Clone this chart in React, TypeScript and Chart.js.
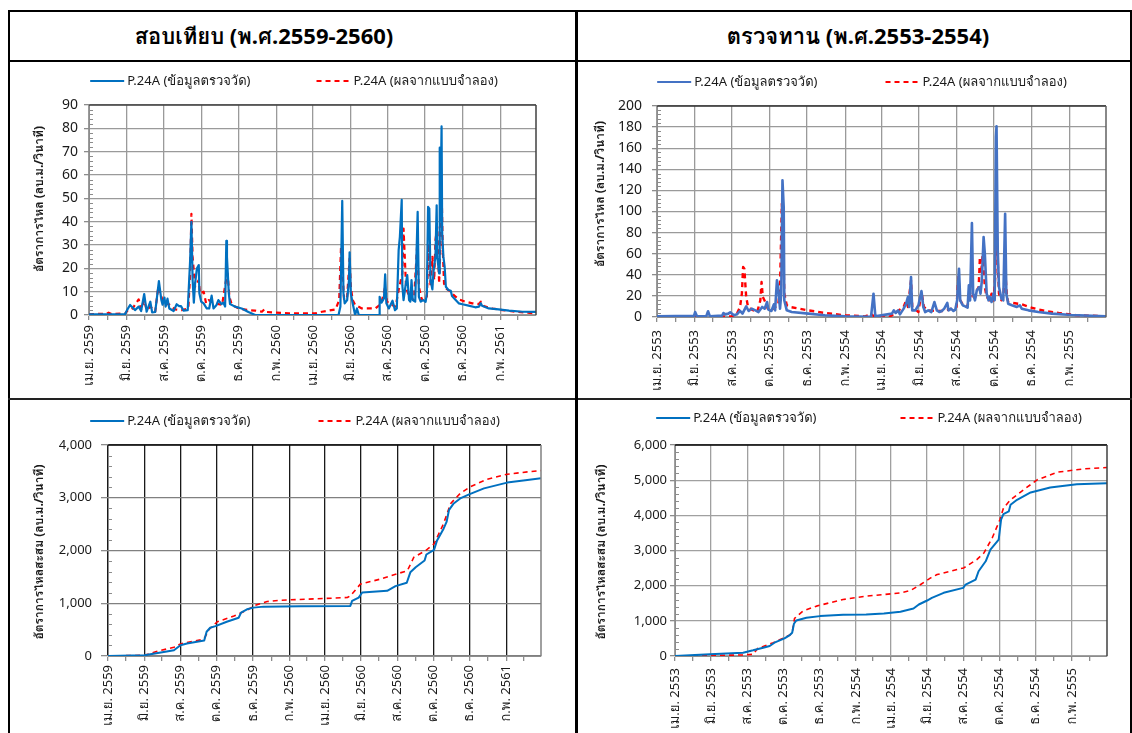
import React, { useEffect, useRef } from 'react';
import { Chart, registerables } from 'chart.js';

Chart.register(...registerables);

const FONT = "Tahoma, 'Noto Sans', Garuda, Loma, 'Noto Sans Thai', sans-serif";
const TEXT = '#1a1a1a';

// ---------- text ----------
const headerCal = 'สอบเทียบ (พ.ศ.2559-2560)';
const headerVer = 'ตรวจทาน (พ.ศ.2553-2554)';
const legendObs = 'P.24A (ข้อมูลตรวจวัด)';
const legendSim = 'P.24A (ผลจากแบบจำลอง)';
const titleFlow = 'อัตราการไหล (ลบ.ม./วินาที)';
const titleCum = 'อัตราการไหลสะสม (ลบ.ม./วินาที)';

const calTickLabels = ['เม.ย. 2559', 'มิ.ย. 2559', 'ส.ค. 2559', 'ต.ค. 2559', 'ธ.ค. 2559', 'ก.พ. 2560', 'เม.ย. 2560', 'มิ.ย. 2560', 'ส.ค. 2560', 'ต.ค. 2560', 'ธ.ค. 2560', 'ก.พ. 2561'];
const verTickLabels = ['เม.ย. 2553', 'มิ.ย. 2553', 'ส.ค. 2553', 'ต.ค. 2553', 'ธ.ค. 2553', 'ก.พ. 2554', 'เม.ย. 2554', 'มิ.ย. 2554', 'ส.ค. 2554', 'ต.ค. 2554', 'ธ.ค. 2554', 'ก.พ. 2555'];

// ---------- data (x = days since 1 Apr of the first year) ----------
// calibration 2559-2560 (starts 1 Apr 2016), daily flow
const calObsDays = [0,59,62,67,75,81,85,90,94,100,103,108,114,118,120,123,125,128,131,138,143,147,150,154,161,165,167,169,171,173,176,179,180,183,187,192,196,200,203,208,211,216,219,222,224,225,228,230,238,249,260,271,407,410,413,415,417,421,424,425,427,430,434,437,440,473,474,477,481,483,485,489,495,499,502,505,507,510,511,513,516,519,522,524,526,528,532,536,538,541,545,549,551,553,555,557,560,562,565,567,568,571,572,573,575,576,578,580,582,586,590,592,598,603,609,619,630,636,639,641,652,668,685,707,729];
const calObsFlow = [0.3,0.4,2.1,4.3,2.1,3.6,1.7,9.0,1.4,5.7,1.1,1.3,14.5,6.4,4.4,7.5,3.6,7.0,2.8,1.7,4.6,3.8,3.8,1.9,2.1,23.8,39.9,15.0,5.3,13.5,19.9,21.4,9.3,5.7,5.0,2.8,2.8,8.3,2.8,4.3,6.4,4.7,5.3,3.6,31.8,24.9,9.3,4.7,3.6,2.8,1.3,0,0,3.6,48.9,9.3,5.0,6.4,15.0,26.9,9.3,5.0,0,2.8,0,0,7.8,5.3,7.1,17.4,5.0,2.8,6.1,2.1,2.8,27.8,33.5,49.4,12.8,6.4,12.1,17.1,6.4,5.7,15.0,6.4,5.7,44.2,7.8,5.7,6.4,5.6,9.3,46.3,45.6,15.0,11.0,19.2,24.9,47.0,24.9,17.8,71.7,40.6,80.8,34.9,24.9,20.7,12.1,10.7,10.4,8.1,6.4,5.0,4.6,4.0,3.3,3.6,5.0,4.0,2.8,2.4,1.9,1.4,1.3];
const calSimDays = [0,29,32,37,59,63,70,81,85,90,94,100,108,113,118,123,130,140,151,162,165,167,169,173,179,181,187,191,195,200,206,217,223,226,229,233,244,260,271,282,286,290,326,369,380,391,402,408,411,413,416,421,425,427,430,434,445,467,474,478,483,486,494,500,505,511,513,515,517,522,530,535,538,543,551,554,557,560,563,565,568,571,573,575,577,579,582,590,595,603,614,625,636,639,644,658,674,696,729];
const calSimFlow = [0.3,0.6,1.0,0.4,0.7,1.9,2.4,6.7,2.4,6.4,2.1,3.6,1.4,12.1,7.8,4.7,4.7,2.4,2.1,2.8,17.8,43.4,24.9,12.1,15.0,9.3,10.0,5.0,6.4,5.7,5.0,4.3,14.2,17.8,7.8,4.3,2.8,2.1,1.9,1.4,2.4,1.3,0.7,0.7,1.4,1.9,2.4,6.4,29.2,20.7,6.4,7.8,24.2,12.1,6.4,4.3,2.8,2.8,4.3,6.4,12.1,5.7,4.3,3.6,10.7,17.8,37.0,24.9,12.1,7.8,6.4,29.2,12.1,6.4,7.8,30.6,12.1,24.9,15.0,32.1,37.7,13.5,27.8,55.1,27.8,13.5,11.4,10.0,8.5,6.7,5.7,5.0,4.7,5.7,3.8,2.8,2.1,1.4,0.7];

// verification 2553-2554 (starts 1 Apr 2010), daily flow
const verObsDays = [0,30,60,62,65,80,83,86,106,108,111,116,119,125,130,135,139,145,149,154,160,165,171,175,179,181,186,190,192,195,197,200,202,204,206,207,211,219,246,273,306,348,352,355,382,385,388,392,395,401,405,408,410,413,415,420,425,430,433,436,441,446,451,455,459,463,467,472,474,478,482,485,488,491,493,497,501,505,507,509,512,514,517,520,524,526,528,531,533,536,539,541,544,547,549,551,552,554,556,560,563,566,568,571,577,585,590,593,604,620,642,674,730];
const verObsFlow = [0.6,0.9,0.9,4.7,0.6,0.6,5.4,0.6,1.3,3.8,2.5,3.2,4.4,1.6,2.5,5.7,3.2,10.1,5.7,7.9,6.3,4.7,9.5,7.9,14.2,7.0,5.7,12.0,6.3,34.8,28.4,7.9,22.1,129.5,104.3,15.8,6.3,4.7,3.2,1.6,0.6,0.3,22.1,0.6,3.2,6.3,3.8,6.3,2.5,7.9,12.6,19.0,9.5,37.9,6.3,6.3,11.1,24.6,9.5,4.7,6.3,4.7,14.2,6.3,4.7,5.7,7.9,13.3,6.3,7.9,5.7,7.0,15.8,45.8,15.8,11.1,10.1,8.8,30.0,15.8,89.1,22.1,15.8,25.3,28.4,22.1,33.2,75.8,60.0,22.1,15.8,19.0,14.2,22.1,15.8,170.6,180.7,63.2,28.4,17.4,15.8,97.9,22.1,12.6,11.1,9.5,11.1,7.9,6.3,4.7,3.2,1.9,0.6];
const verSimDays = [0,57,122,130,135,138,140,142,145,148,154,163,168,170,172,176,180,186,192,197,200,203,205,207,211,216,246,273,306,338,349,353,376,382,393,401,405,408,413,415,425,430,434,441,452,463,474,487,490,493,498,504,509,513,516,520,523,525,527,529,531,533,536,541,544,547,550,552,554,556,560,563,566,569,571,579,593,609,631,653,680,730];
const verSimFlow = [0,0.3,0.6,3.2,9.5,22.1,47.4,45.8,19.0,9.5,7.0,4.7,15.8,33.2,19.0,14.2,7.9,6.3,9.5,11.1,28.4,107.4,72.7,22.1,11.1,9.5,6.3,3.8,1.6,0.6,2.5,0.6,0,1.6,6.3,9.5,15.8,9.5,34.8,9.5,4.7,23.7,9.5,6.3,5.7,5.7,7.0,9.5,37.9,15.8,11.1,9.5,19.0,23.7,15.8,25.3,28.4,56.9,41.1,56.9,47.4,28.4,19.0,15.8,22.1,15.8,37.9,88.5,53.7,22.1,15.8,19.0,45.8,19.0,14.2,13.3,12.0,8.8,5.7,3.8,1.9,0.6];

// cumulative flow
const calObsCumDays = [0,61,94,111,122,133,162,166,172,181,200,220,224,234,245,262,324,408,411,422,428,470,484,503,509,518,533,536,549,554,565,570,574,582,593,609,633,672,706,729];
const calObsCum = [0,13,76,108,204,236,293,459,535,567,650,726,822,885,917,936,943,949,1045,1108,1204,1236,1325,1389,1586,1682,1809,1924,2013,2191,2414,2541,2764,2892,2987,3070,3178,3287,3338,3369];
const calSimCumDays = [0,61,83,111,122,156,162,170,184,212,234,245,268,290,403,408,425,459,504,515,535,549,565,577,593,610,638,672,706,729];
const calSimCum = [0,13,89,166,229,306,331,503,650,758,866,949,1032,1057,1108,1140,1363,1459,1618,1873,2000,2127,2510,2892,3083,3210,3350,3446,3490,3516];
const verObsCumDays = [0,59,115,132,149,160,168,177,185,194,198,201,205,222,245,284,323,353,381,403,412,426,434,454,487,491,508,513,525,533,547,551,555,564,567,578,601,634,679,730];
const verObsCum = [0,47,95,161,236,284,378,444,501,595,662,917,1011,1087,1134,1172,1181,1210,1257,1352,1465,1578,1654,1796,1938,2032,2174,2410,2694,3025,3308,3875,4036,4112,4301,4442,4650,4792,4887,4915];
const verSimCumDays = [0,59,115,132,140,166,194,198,202,216,239,261,284,323,353,381,398,415,432,443,465,488,510,522,536,549,555,567,589,612,646,691,730];
const verSimCum = [0,19,28,47,217,378,595,662,1068,1276,1418,1512,1607,1701,1749,1796,1862,2032,2221,2316,2410,2505,2741,2930,3355,3875,4206,4442,4726,5009,5227,5321,5359];

// ---------- helpers ----------
const zip = (xs: number[], ys: number[]) => xs.map((x, i) => ({ x, y: ys[i] }));

function monthTicks(year: number, month: number, count: number, maxDay: number) {
  const t0 = Date.UTC(year, month, 1);
  const out: number[] = [];
  for (let i = 0; i <= count; i++) {
    const d = Math.round((Date.UTC(year, month + i, 1) - t0) / 86400000);
    if (d <= maxDay) out.push(d);
  }
  return out;
}

type Spec = {
  left: number; top: number; w: number; h: number;
  year: number; maxDay: number; xLabels: string[];
  yMax: number; yStep: number; yMinor: number; thousands: boolean;
  yWidth: number; xHeight: number; padTop: number; padRight: number;
  yPad: number; yTickLen: number; xPad: number; yFont: number;
  obsDays: number[]; obsVals: number[]; simDays: number[]; simVals: number[];
  obsColor: string; obsWidth: number; simWidth: number;
  vGrid: string; hGrid: string; topColor: string; rightColor: string;
  title: string; titleX: number; titleY: number;
  legendCx: number; legendY: number; legendGap: number;
};

function buildConfig(s: Spec): any {
  const ticksX = monthTicks(s.year, 3, 24, s.maxDay);
  const decor = {
    id: 'decor',
    afterDraw(chart: any) {
      const { ctx, chartArea: a } = chart;
      const ys = chart.scales.y;
      ctx.save();
      // minor y ticks (inside)
      ctx.strokeStyle = '#8c8c8c';
      ctx.lineWidth = 1;
      for (let v = s.yMinor; v < s.yMax; v += s.yMinor) {
        const r = v / s.yStep;
        if (Math.abs(r - Math.round(r)) < 1e-6) continue;
        const py = Math.round(ys.getPixelForValue(v)) + 0.5;
        ctx.beginPath();
        ctx.moveTo(a.left, py);
        ctx.lineTo(a.left + 4, py);
        ctx.stroke();
      }
      // plot frame (top / right)
      ctx.lineWidth = 1.5;
      ctx.strokeStyle = s.topColor;
      ctx.beginPath();
      ctx.moveTo(a.left, a.top);
      ctx.lineTo(a.right, a.top);
      ctx.stroke();
      ctx.strokeStyle = s.rightColor;
      ctx.beginPath();
      ctx.moveTo(a.right, a.top);
      ctx.lineTo(a.right, a.bottom);
      ctx.stroke();
      // y-axis title
      ctx.save();
      ctx.translate(s.titleX, s.titleY);
      ctx.rotate(-Math.PI / 2);
      ctx.font = `bold 12px ${FONT}`;
      ctx.fillStyle = TEXT;
      ctx.textAlign = 'center';
      ctx.textBaseline = 'middle';
      ctx.fillText(s.title, 0, 0);
      ctx.restore();
      // legend
      ctx.font = `13px ${FONT}`;
      const items = [
        { text: legendObs, color: s.obsColor, dash: [] as number[] },
        { text: legendSim, color: '#FF0000', dash: [5, 4] },
      ];
      const lineLen = 34;
      const gap = 3;
      const widths = items.map((it) => lineLen + gap + ctx.measureText(it.text).width);
      const total = widths[0] + s.legendGap + widths[1];
      let x = s.legendCx - total / 2;
      items.forEach((it, i) => {
        ctx.strokeStyle = it.color;
        ctx.lineWidth = 2;
        ctx.setLineDash(it.dash);
        ctx.beginPath();
        ctx.moveTo(x, s.legendY);
        ctx.lineTo(x + lineLen, s.legendY);
        ctx.stroke();
        ctx.setLineDash([]);
        ctx.fillStyle = TEXT;
        ctx.textAlign = 'left';
        ctx.textBaseline = 'middle';
        ctx.fillText(it.text, x + lineLen + gap, s.legendY);
        x += widths[i] + s.legendGap;
      });
      ctx.restore();
    },
  };

  return {
    type: 'line',
    data: {
      datasets: [
        {
          label: legendObs,
          data: zip(s.obsDays, s.obsVals),
          borderColor: s.obsColor,
          borderWidth: s.obsWidth,
          pointRadius: 0,
          tension: 0,
          fill: false,
          borderJoinStyle: 'round',
        },
        {
          label: legendSim,
          data: zip(s.simDays, s.simVals),
          borderColor: '#FF0000',
          borderWidth: s.simWidth,
          borderDash: [5, 4],
          pointRadius: 0,
          tension: 0,
          fill: false,
          borderJoinStyle: 'round',
        },
      ],
    },
    options: {
      responsive: false,
      animation: false,
      devicePixelRatio: 1,
      layout: { padding: { top: s.padTop, right: s.padRight, left: 0, bottom: 0 } },
      plugins: { legend: { display: false }, tooltip: { enabled: false } },
      scales: {
        x: {
          type: 'linear',
          min: 0,
          max: s.maxDay,
          afterFit: (sc: any) => { sc.height = s.xHeight; },
          afterBuildTicks: (sc: any) => { sc.ticks = ticksX.map((v) => ({ value: v })); },
          ticks: {
            autoSkip: false,
            maxRotation: 90,
            minRotation: 90,
            padding: s.xPad,
            color: TEXT,
            font: { family: FONT, size: 13 },
            callback: (_v: any, i: number) => (i % 2 === 0 ? s.xLabels[i / 2] ?? '' : ''),
          },
          grid: {
            color: (c: any) => (c.index % 2 === 0 ? s.vGrid : 'rgba(0,0,0,0)'),
            lineWidth: 1.3,
            tickColor: '#8c8c8c',
            tickLength: 5,
          },
          border: { color: '#8c8c8c', width: 1 },
        },
        y: {
          min: 0,
          max: s.yMax,
          afterFit: (sc: any) => { sc.width = s.yWidth; },
          ticks: {
            stepSize: s.yStep,
            padding: s.yPad,
            color: TEXT,
            font: { family: FONT, size: s.yFont },
            callback: (v: any) => (s.thousands ? Number(v).toLocaleString('en-US') : String(v)),
          },
          grid: { color: s.hGrid, lineWidth: 1.3, tickColor: '#8c8c8c', tickLength: s.yTickLen },
          border: { color: '#8c8c8c', width: 1 },
        },
      },
    },
    plugins: [decor],
  };
}

const specs: Spec[] = [
  {
    left: 10, top: 62, w: 565, h: 336, year: 2016, maxDay: 729, xLabels: calTickLabels,
    yMax: 90, yStep: 10, yMinor: 2, thousands: false,
    yWidth: 79, xHeight: 83, padTop: 43, padRight: 39, yPad: 6, yTickLen: 5, xPad: 5, yFont: 14,
    obsDays: calObsDays, obsVals: calObsFlow, simDays: calSimDays, simVals: calSimFlow,
    obsColor: '#0070C0', obsWidth: 2.2, simWidth: 2.2,
    vGrid: '#9a9a9a', hGrid: '#9a9a9a', topColor: '#404040', rightColor: '#404040',
    title: titleFlow, titleX: 30, titleY: 137, legendCx: 284, legendY: 19, legendGap: 66,
  },
  {
    left: 578, top: 62, w: 551, h: 336, year: 2010, maxDay: 730, xLabels: verTickLabels,
    yMax: 200, yStep: 20, yMinor: 4, thousands: false,
    yWidth: 79, xHeight: 81, padTop: 44, padRight: 23, yPad: 10, yTickLen: 5, xPad: 8, yFont: 14,
    obsDays: verObsDays, obsVals: verObsFlow, simDays: verSimDays, simVals: verSimFlow,
    obsColor: '#4472C4', obsWidth: 2.6, simWidth: 2.4,
    vGrid: '#9a9a9a', hGrid: '#9a9a9a', topColor: '#303030', rightColor: '#606060',
    title: titleFlow, titleX: 23, titleY: 132, legendCx: 284, legendY: 20, legendGap: 68,
  },
  {
    left: 10, top: 400, w: 565, h: 333, year: 2016, maxDay: 729, xLabels: calTickLabels,
    yMax: 4000, yStep: 1000, yMinor: 200, thousands: true,
    yWidth: 98, xHeight: 77, padTop: 45, padRight: 34, yPad: 9, yTickLen: 7, xPad: 4, yFont: 13,
    obsDays: calObsCumDays, obsVals: calObsCum, simDays: calSimCumDays, simVals: calSimCum,
    obsColor: '#0070C0', obsWidth: 2, simWidth: 1.6,
    vGrid: '#1a1a1a', hGrid: '#808080', topColor: '#000000', rightColor: '#808080',
    title: titleCum, titleX: 30, titleY: 152, legendCx: 285, legendY: 21, legendGap: 68,
  },
  {
    left: 578, top: 400, w: 551, h: 333, year: 2010, maxDay: 730, xLabels: verTickLabels,
    yMax: 6000, yStep: 1000, yMinor: 200, thousands: true,
    yWidth: 97, xHeight: 77, padTop: 45, padRight: 22, yPad: 3, yTickLen: 5, xPad: 7, yFont: 13,
    obsDays: verObsCumDays, obsVals: verObsCum, simDays: verSimCumDays, simVals: verSimCum,
    obsColor: '#0070C0', obsWidth: 2, simWidth: 1.6,
    vGrid: '#a0a0a0', hGrid: '#a0a0a0', topColor: '#000000', rightColor: '#404040',
    title: titleCum, titleX: 24, titleY: 152, legendCx: 291, legendY: 18, legendGap: 84,
  },
];

function ChartBox({ spec }: { spec: Spec }) {
  const ref = useRef<HTMLCanvasElement>(null);
  useEffect(() => {
    const chart = new Chart(ref.current as HTMLCanvasElement, buildConfig(spec));
    return () => chart.destroy();
  }, [spec]);
  return (
    <canvas
      ref={ref}
      width={spec.w}
      height={spec.h}
      style={{ position: 'absolute', left: spec.left, top: spec.top, width: spec.w, height: spec.h }}
    />
  );
}

const headerStyle = (left: number, width: number): React.CSSProperties => ({
  position: 'absolute', left, top: 12, width, height: 48,
  display: 'flex', alignItems: 'center', justifyContent: 'center',
  font: `bold 22px ${FONT}`, color: '#000', whiteSpace: 'nowrap',
});

export default function App() {
  return (
    <div style={{ position: 'absolute', left: 0, top: 0, width: 1132, height: 733, overflow: 'hidden', background: '#fff' }}>
      <div style={{ position: 'absolute', left: 8, top: 10, width: 1124, height: 760, border: '2px solid #000', boxSizing: 'border-box' }} />
      <div style={{ position: 'absolute', left: 8, top: 60, width: 1124, height: 2, background: '#000' }} />
      <div style={{ position: 'absolute', left: 8, top: 398, width: 1124, height: 2, background: '#222' }} />
      <div style={{ position: 'absolute', left: 575, top: 10, width: 3, height: 760, background: '#000' }} />
      <div style={headerStyle(10, 508)}>{headerCal}</div>
      <div style={headerStyle(578, 560)}>{headerVer}</div>
      {specs.map((s, i) => <ChartBox key={i} spec={s} />)}
    </div>
  );
}
